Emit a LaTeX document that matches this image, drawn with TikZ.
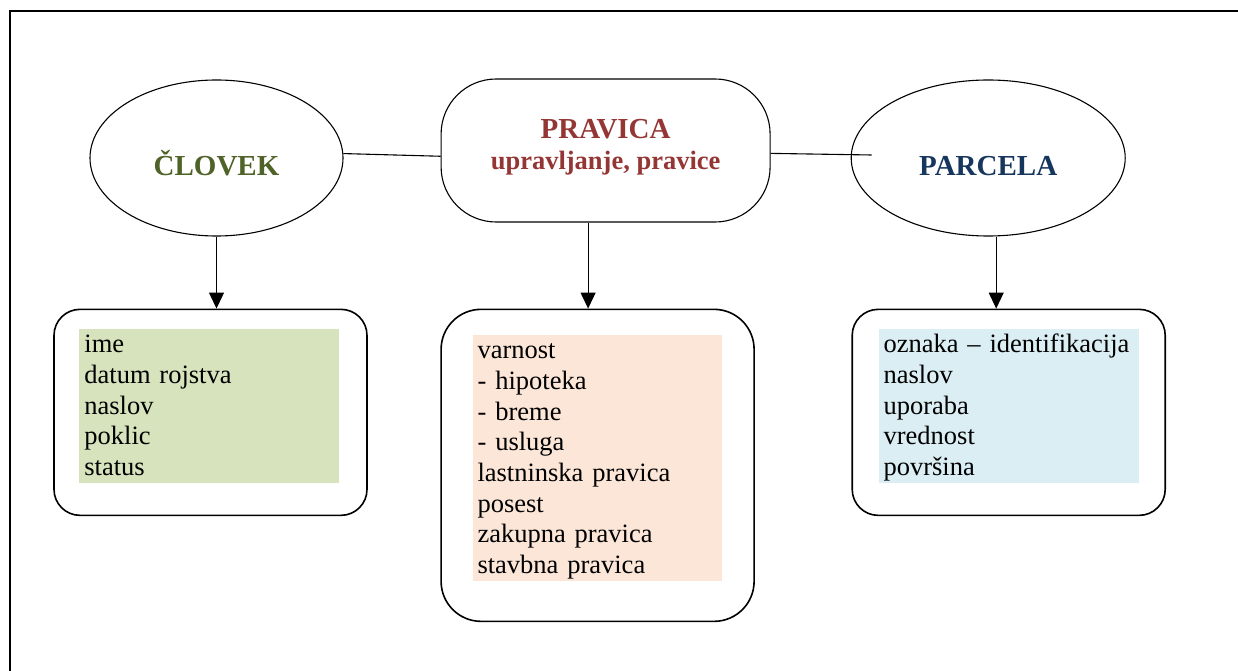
\documentclass[tikz,border=0pt]{standalone}
\usepackage{fontspec}
\setmainfont{Liberation Serif}
\usepackage{xcolor}
\usepackage{tikz}
\usetikzlibrary{shapes.geometric,arrows.meta,positioning}
\definecolor{cloveko}{HTML}{4F6228}
\definecolor{pravred}{HTML}{943634}
\definecolor{parcblue}{HTML}{17365D}
\definecolor{greenbg}{HTML}{D6E3BC}
\definecolor{peachbg}{HTML}{FBE6D8}
\definecolor{bluebg}{HTML}{DAEEF3}
\newcommand{\firstline}{\rule{0pt}{24pt}}
\newcommand{\lastline}{\rule[-7pt]{0pt}{7pt}}
\tikzset{
  entity/.style={ellipse, draw, line width=1.1pt, inner sep=0pt,
                 text height=35pt, text depth=0pt,
                 font=\fontsize{29}{33}\selectfont\bfseries},
  relation/.style={rectangle, rounded corners=55pt, draw, line width=1.1pt,
                   minimum width=329pt, minimum height=143pt, align=center,
                   text=pravred, font=\fontsize{26.5}{31}\selectfont\bfseries},
  attrbox/.style={rectangle, rounded corners=26pt, draw, line width=1.6pt,
                  minimum width=313pt, minimum height=206pt},
  attrlist/.style={rectangle, inner xsep=5pt, inner ysep=0pt, align=left,
                   anchor=north west, font=\fontsize{26.5}{30.7}\selectfont},
  link/.style={line width=1.1pt},
  arrow/.style={-{Triangle[length=16pt,width=15pt]}, line width=1.2pt}
}

\begin{document}
\begin{tikzpicture}[x=1pt, y=1pt]
\useasboundingbox (0,0) rectangle (1238,670);
\clip (0,0) rectangle (1238,670);
\draw[line width=2pt] (10,-10) |- (1250,659);

% entities and the relation between them
\node[entity, text=cloveko, minimum width=253pt, minimum height=156pt]
  (clovek) at (216.5,512) {ČLOVEK};
\node[relation, right=97pt of clovek, yshift=7.5pt] (pravica)
  {{\fontsize{29}{31}\selectfont PRAVICA}\\
   upravljanje, pravice\rule[-13pt]{0pt}{13pt}};
\node[entity, text=parcblue, minimum width=274pt, minimum height=156pt,
      right=80pt of pravica, yshift=-7.5pt] (parcela) {PARCELA};

% attribute boxes
\node[attrbox, below=72pt of clovek, xshift=-6pt] (clovekbox) {};
\node[attrbox, rounded corners=40pt, minimum height=312pt,
      below=86pt of pravica, xshift=-8pt] (pravicabox) {};
\node[attrbox, below=72pt of parcela, xshift=20.5pt] (parcelabox) {};

\node[attrlist, fill=greenbg, text width=250pt]
  (clovekattr) at ([shift={(26,-20)}]clovekbox.north west)
  {\firstline ime\\datum rojstva\\naslov\\poklic\\status\lastline};
\node[attrlist, fill=peachbg, text width=239pt]
  (pravicaattr) at ([shift={(32,-26)}]pravicabox.north west)
  {\firstline varnost\\-\hspace{9pt}hipoteka\\-\hspace{9pt}breme\\-\hspace{9pt}usluga\\
   lastninska pravica\\posest\\zakupna pravica\\stavbna pravica\lastline};
\node[attrlist, fill=bluebg, text width=250pt]
  (parcelaattr) at ([shift={(27,-20)}]parcelabox.north west)
  {\firstline oznaka – identifikacija\\naslov\\uporaba\\vrednost\\površina\lastline};

% connectors
\coordinate (pravicadown) at ([xshift=-17.5pt]pravica.south);
\coordinate (parceladown) at ([xshift=8pt]parcela.south);
\coordinate (parcelastub) at ([shift={(21,3)}]parcela.west);

\draw[link] (clovek.2) -- (pravica.182);
\draw[link] (pravica.359) -- (parcelastub);
\draw[arrow] (clovek.south) -- (clovek.south |- clovekbox.north);
\draw[arrow] (pravicadown) -- (pravicadown |- pravicabox.north);
\draw[arrow] (parceladown) -- (parceladown |- parcelabox.north);
\end{tikzpicture}
\end{document}
